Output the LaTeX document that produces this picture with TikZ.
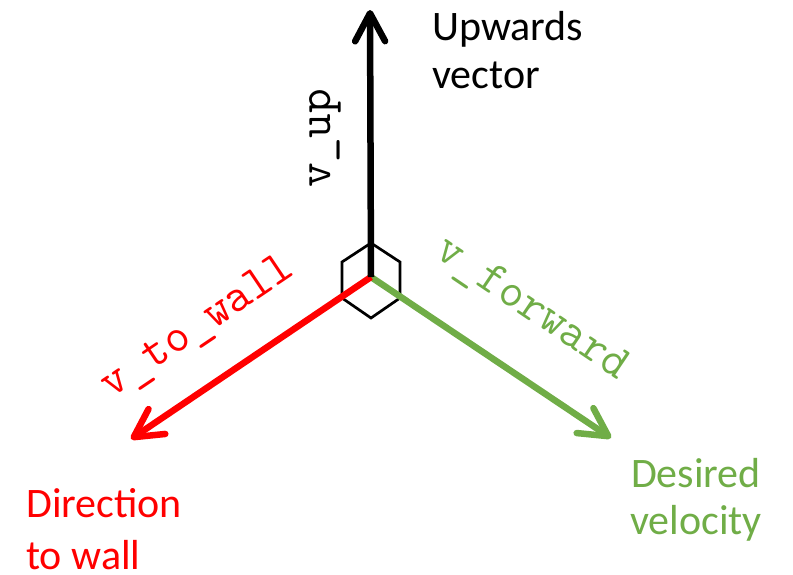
\documentclass[tikz,border=0pt]{standalone}
\usepackage{fontspec}
\setmainfont{Carlito}
\usetikzlibrary{arrows.meta}
\definecolor{fwdgreen}{RGB}{112,173,71}
\definecolor{wallred}{RGB}{255,0,0}
\tikzset{
  vecarrow/.style={line width=6.5pt, -{Straight Barb[length=28pt,width=30pt,line cap=round,line join=round]}},
  hexline/.style={draw=black, line width=2.7pt, line join=miter},
  sanslbl/.style={font=\fontsize{42}{50}\selectfont, inner sep=0pt},
  monolbl/.style={font=\ttfamily\fontsize{48}{52}\selectfont, inner sep=0pt},
}
\begin{document}
\begin{tikzpicture}[x=1pt,y=-1pt]
\useasboundingbox (0,0) rectangle (793,574);
% centre and tips
\coordinate (O) at (371,277);
\coordinate (upTip) at (370,10);
\coordinate (wallTip) at (131,439);
\coordinate (fwdTip) at (611,438);
% hexagon
\draw[hexline] (371,243) -- (400,262) -- (400,298) -- (371,318) -- (342,298) -- (342,262) -- cycle;
% vectors
\draw[vecarrow, draw=fwdgreen] (O) -- (fwdTip);
\draw[vecarrow, draw=wallred] (O) -- (wallTip);
\draw[vecarrow, draw=black] (O) -- (upTip);
% monospaced labels
\node[monolbl, rotate=90, anchor=base] (lup) at (330,138) {v\_up};
\node[monolbl, rotate=34, anchor=base, text=wallred] (lwall) at (204,336) {v\_to\_wall};
\node[monolbl, rotate=-34, anchor=base, text=fwdgreen] (lfwd) at (526,318) {v\_forward};
% descriptive labels
\node[sanslbl, anchor=base west] (upA) at (432,40) {Upwards};
\node[sanslbl, anchor=base west] (upB) at (432,88) {vector};
\node[sanslbl, anchor=base west, text=wallred] (wallA) at (26,517) {Direction};
\node[sanslbl, anchor=base west, text=wallred] (wallB) at (26,569) {to wall};
\node[sanslbl, anchor=base, text=fwdgreen] (fwdA) at (696,487) {Desired};
\node[sanslbl, anchor=base, text=fwdgreen] (fwdB) at (696,534) {velocity};
\end{tikzpicture}
\end{document}
